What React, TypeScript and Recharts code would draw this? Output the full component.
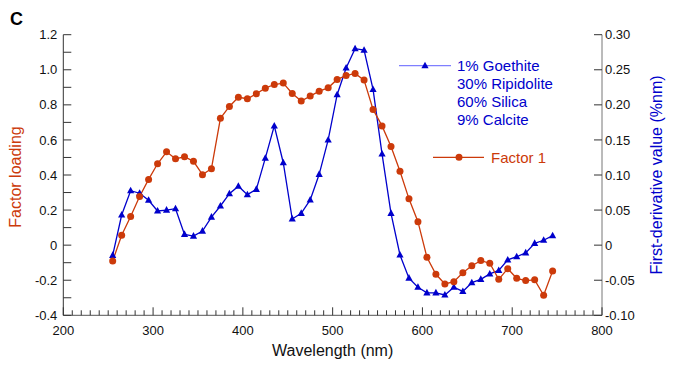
import React from 'react'
import { ComposedChart, Line, XAxis, YAxis, Legend } from 'recharts'

const wavelengths = [
  255, 265, 275, 285, 295, 305, 315, 325, 335, 345,
  355, 365, 375, 385, 395, 405, 415, 425, 435, 445,
  455, 465, 475, 485, 495, 505, 515, 525, 535, 545,
  555, 565, 575, 585, 595, 605, 615, 625, 635, 645,
  655, 665, 675, 685, 695, 705, 715, 725, 735, 745,
]

// Factor 1 loading (left axis)
const factorLoading = [
  -0.09, 0.056, 0.163, 0.277, 0.375, 0.464, 0.532, 0.492, 0.504, 0.478,
  0.402, 0.436, 0.723, 0.791, 0.843, 0.835, 0.863, 0.895, 0.916, 0.924,
  0.865, 0.822, 0.85, 0.878, 0.897, 0.945, 0.967, 0.979, 0.941, 0.774,
  0.68, 0.563, 0.421, 0.264, 0.134, -0.069, -0.166, -0.221, -0.208, -0.157,
  -0.117, -0.088, -0.103, -0.195, -0.134, -0.189, -0.202, -0.198, -0.286, -0.147,
]

// first-derivative of the mineral mixture (right axis)
const mixtureDeriv = [
  -0.0145, 0.043, 0.0776, 0.074, 0.064, 0.0487, 0.05, 0.052, 0.0154, 0.013,
  0.02, 0.04, 0.0558, 0.0733, 0.084, 0.072, 0.0796, 0.124, 0.17, 0.1175,
  0.0373, 0.0454, 0.0644, 0.101, 0.15, 0.2145, 0.2525, 0.28, 0.278, 0.222,
  0.13, 0.0454, -0.014, -0.047, -0.06, -0.068, -0.068, -0.071, -0.06, -0.066,
  -0.0535, -0.0487, -0.041, -0.036, -0.021, -0.0165, -0.011, 0.0026, 0.007, 0.0135,
]

const mixtureLines = ['1% Goethite', '30% Ripidolite', '60% Silica', '9% Calcite']
const factorName = 'Factor 1'

const xLabelTicks = [200, 300, 400, 500, 600, 700, 800]
const xAllTicks = Array.from({ length: 61 }, (_, i) => 200 + i * 10)
const leftTicks = [-0.4, -0.3, -0.2, -0.1, 0, 0.1, 0.2, 0.3, 0.4, 0.5, 0.6, 0.7, 0.8, 0.9, 1.0, 1.1, 1.2]
const leftLabelTicks = [-0.4, -0.2, 0, 0.2, 0.4, 0.6, 0.8, 1.0, 1.2]
const rightTicks = [-0.1, -0.05, 0, 0.05, 0.1, 0.15, 0.2, 0.25, 0.3]

const RED = '#cc3a0a'
const BLUE = '#0000cc'
const FONT = '"Liberation Sans", Arial, Helvetica, sans-serif'

const rows = wavelengths.map((wl, i) => ({ wl, factor: factorLoading[i], deriv: mixtureDeriv[i] }))

const isLabeled = (list: number[], v: number) => list.some(t => Math.abs(t - v) < 1e-6)

function BottomTick(props: any) {
  const { x, y, payload } = props
  const axisY = y - 10
  const major = isLabeled(xLabelTicks, payload.value)
  return (
    <g>
      <line x1={x} x2={x} y1={axisY} y2={axisY - (major ? 8 : 5)} stroke="#333" />
      {major && (
        <text x={x} y={y} dy="0.71em" textAnchor="middle" fontSize={13} fill="#111" fontFamily={FONT}>
          {payload.value}
        </text>
      )}
    </g>
  )
}

function TopTick(props: any) {
  const { x, y, payload } = props
  const major = isLabeled(xLabelTicks, payload.value)
  return <line x1={x} x2={x} y1={y} y2={y + (major ? 8 : 5)} stroke="#333" />
}

function LeftTick(props: any) {
  const { x, y, payload } = props
  const axisX = x + 6
  const v = payload.value
  return (
    <g>
      <line x1={axisX} x2={axisX + 8} y1={y} y2={y} stroke="#333" />
      {isLabeled(leftLabelTicks, v) && (
        <text x={x} y={y} dy="0.355em" textAnchor="end" fontSize={13} fill="#111" fontFamily={FONT}>
          {Math.abs(v) < 1e-9 ? '0' : v.toFixed(1)}
        </text>
      )}
    </g>
  )
}

function RightTick(props: any) {
  const { x, y, payload } = props
  const axisX = x - 3
  const v = payload.value
  return (
    <g>
      <line x1={axisX} x2={axisX - 8} y1={y} y2={y} stroke="#333" />
      <text x={x} y={y} dy="0.355em" textAnchor="start" fontSize={13} fill="#111" fontFamily={FONT}>
        {Math.abs(v) < 1e-9 ? '0' : v.toFixed(2)}
      </text>
    </g>
  )
}

function Triangle(props: any) {
  const { cx, cy, index } = props
  if (cx == null || cy == null) return <g key={`t-${index}`} />
  return (
    <polygon
      key={`t-${index}`}
      points={`${cx},${cy - 4} ${cx - 3.6},${cy + 2.6} ${cx + 3.6},${cy + 2.6}`}
      fill={BLUE}
    />
  )
}

function KeyBox() {
  return (
    <svg width={200} height={120} style={{ display: 'block', overflow: 'visible' }}>
      <line x1={4} x2={56} y1={15.7} y2={15.7} stroke="#7f7fff" strokeWidth={1.2} />
      <polygon points="30,11.7 26.4,18.3 33.6,18.3" fill={BLUE} />
      {mixtureLines.map((t, i) => (
        <text key={t} x={62} y={20.7 + i * 18.1} fontSize={15} fill={BLUE} fontFamily={FONT}>
          {t}
        </text>
      ))}
      <line x1={38} x2={89} y1={107.3} y2={107.3} stroke={RED} strokeWidth={1.2} />
      <circle cx={64} cy={107.3} r={3.5} fill={RED} />
      <text x={96} y={112.5} fontSize={15} fill={RED} fontFamily={FONT}>
        {factorName}
      </text>
    </svg>
  )
}

export default function App() {
  return (
    <div style={{ position: 'absolute', left: 0, top: 0, width: 673, height: 370, background: '#fff' }}>
      <div style={{ position: 'absolute', left: 10, top: 9, fontFamily: FONT, fontWeight: 700, fontSize: 18, color: '#000' }}>
        C
      </div>
      <ComposedChart width={673} height={370} data={rows} margin={{ top: 34.7, right: 0, bottom: 0, left: 0 }}>
        <XAxis
          xAxisId="b"
          dataKey="wl"
          type="number"
          domain={[200, 800]}
          ticks={xAllTicks}
          interval={0}
          height={54.7}
          tickSize={0}
          tickMargin={10}
          tickLine={false}
          tick={<BottomTick />}
          stroke="#555"
          label={(p: any) => {
            const vb = p.viewBox || { x: 63.3, y: 315.3, width: 538.7 }
            return (
              <text x={vb.x + vb.width / 2} y={vb.y + 41} textAnchor="middle" fontSize={16} fill="#111" fontFamily={FONT}>
                Wavelength (nm)
              </text>
            )
          }}
        />
        <XAxis
          xAxisId="t"
          orientation="top"
          dataKey="wl"
          type="number"
          domain={[200, 800]}
          ticks={xAllTicks}
          interval={0}
          height={0}
          tickSize={0}
          tickMargin={0}
          tickLine={false}
          tick={<TopTick />}
          stroke="#333"
        />
        <YAxis
          yAxisId="l"
          type="number"
          domain={[-0.4, 1.2]}
          ticks={leftTicks}
          interval={0}
          width={63.3}
          tickSize={0}
          tickMargin={6}
          tickLine={false}
          tick={<LeftTick />}
          stroke="#333"
          label={(p: any) => {
            const vb = p.viewBox || { x: 0, y: 34.7, height: 280.6 }
            const cy = vb.y + vb.height / 2 + 2
            return (
              <text x={21} y={cy} transform={`rotate(-90 21 ${cy})`} textAnchor="middle" fontSize={16} fill={RED} fontFamily={FONT}>
                Factor loading
              </text>
            )
          }}
        />
        <YAxis
          yAxisId="r"
          orientation="right"
          type="number"
          domain={[-0.1, 0.3]}
          ticks={rightTicks}
          interval={0}
          width={71}
          tickSize={0}
          tickMargin={3}
          tickLine={false}
          tick={<RightTick />}
          stroke="#777"
          label={(p: any) => {
            const vb = p.viewBox || { x: 602, y: 34.7, height: 280.6 }
            const cy = vb.y + vb.height / 2
            const tx = vb.x + 60
            return (
              <text x={tx} y={cy} transform={`rotate(-90 ${tx} ${cy})`} textAnchor="middle" fontSize={16} fill={BLUE} fontFamily={FONT}>
                First-derivative value (%nm)
              </text>
            )
          }}
        />
        <Legend
          layout="vertical"
          align="center"
          verticalAlign="middle"
          content={() => <KeyBox />}
          wrapperStyle={{ position: 'absolute', left: 395, top: 50, width: 200, height: 120, margin: 0 }}
        />
        <Line
          xAxisId="b"
          yAxisId="r"
          dataKey="deriv"
          stroke={BLUE}
          strokeWidth={1.3}
          dot={Triangle}
          activeDot={false}
          isAnimationActive={false}
        />
        <Line
          xAxisId="b"
          yAxisId="l"
          dataKey="factor"
          stroke={RED}
          strokeWidth={1.3}
          dot={{ r: 3.5, fill: RED, stroke: 'none' }}
          activeDot={false}
          isAnimationActive={false}
        />
      </ComposedChart>
    </div>
  )
}
